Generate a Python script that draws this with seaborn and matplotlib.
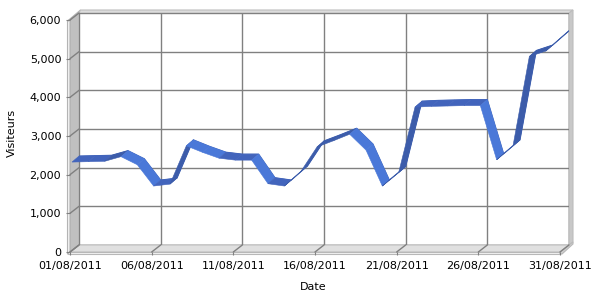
import matplotlib
matplotlib.use("Agg")
import matplotlib.pyplot as plt
import seaborn as sns
from matplotlib.patches import Polygon
from matplotlib.lines import Line2D

# ---------------- data ----------------
days = list(range(1, 32))
visitors = [2300, 2310, 2320, 2440, 2230, 1680, 1730, 2720, 2550, 2400,
            2350, 2350, 1740, 1680, 2050, 2690, 2850, 3020, 2610, 1680,
            2030, 3720, 3740, 3750, 3760, 3760, 2360, 2720, 5030, 5170,
            5540]
x_tick_days = [1, 6, 11, 16, 21, 26, 31]
x_tick_labels = ["01/08/2011", "06/08/2011", "11/08/2011", "16/08/2011",
                 "21/08/2011", "26/08/2011", "31/08/2011"]
y_ticks = [0, 1000, 2000, 3000, 4000, 5000, 6000]
y_tick_labels = ["0", "1,000", "2,000", "3,000", "4,000", "5,000", "6,000"]
x_label = "Date"
y_label = "Visiteurs"

# ---------------- style ----------------
sns.set_theme(style="white")
plt.rcParams["font.family"] = ["DejaVu Sans"]

W, H = 600, 300
fig = plt.figure(figsize=(6, 3), dpi=100)
fig.patch.set_facecolor("white")


def fx(x):
    return x / W


def fy(y):
    return 1 - y / H


def P(pts):
    return [(fx(a), fy(b)) for a, b in pts]


# back wall geometry (pixels, y downwards) and depth offset to the front
BX0, BX1, BY0, BY1 = 79, 569, 13, 245
DX, DY = -9, 7
XMIN, XMAX, YMIN, YMAX = 1, 31, 0, 6000

ax_b = fig.add_axes([fx(BX0), fy(BY1), (BX1 - BX0) / W, (BY1 - BY0) / H])
ax_f = fig.add_axes([fx(BX0 + DX), fy(BY1 + DY), (BX1 - BX0) / W, (BY1 - BY0) / H])


def add_poly(pts, fc, ec, lw=0.8, z=-1):
    fig.add_artist(Polygon(P(pts), closed=True, transform=fig.transFigure,
                           facecolor=fc, edgecolor=ec, lw=lw, zorder=z))


def add_line(p0, p1, color="#808080", lw=1.0, z=-0.5):
    fig.add_artist(Line2D([fx(p0[0]), fx(p1[0])], [fy(p0[1]), fy(p1[1])],
                          transform=fig.transFigure, color=color, lw=lw, zorder=z))


# ---------------- 3D box decoration ----------------
# left wall inner face
add_poly([(BX0, BY0), (BX0, BY1), (BX0 + DX, BY1 + DY), (BX0 + DX, BY0 + DY)],
         "#c0c0c0", "#b0b0b0")
# left wall thickness
add_poly([(BX0 + DX - 2.5, BY0 + DY + 1), (BX0 + DX, BY0 + DY), (BX0 + DX, BY1 + DY + 2),
          (BX0 + DX - 2.5, BY1 + DY + 2)], "#f2f2f2", "#b4b4b4")
# left wall top cap
add_poly([(BX0 + DX - 2.5, BY0 + DY + 1), (BX0 + DX, BY0 + DY), (BX0, BY0), (BX0 + 1.5, BY0 - 3)],
         "#e2e2e2", "#b4b4b4")
# top rim
add_poly([(BX0, BY0), (BX1, BY0), (BX1 + 4, BY0 - 3), (BX0 + 1.5, BY0 - 3)],
         "#dcdcdc", "#bdbdbd")
# right rim
add_poly([(BX1, BY0), (BX1 + 4, BY0 - 3), (BX1 + 4, BY1 - 3), (BX1, BY1)],
         "#c8c8c8", "#bdbdbd")
# floor top face
add_poly([(BX0, BY1), (BX1, BY1), (BX1 + DX, BY1 + DY), (BX0 + DX, BY1 + DY)],
         "#e0e0e0", "#c0c0c0")
# floor front face
add_poly([(BX0 + DX - 2.5, BY1 + DY), (BX1 + DX, BY1 + DY), (BX1 + DX, BY1 + DY + 2),
          (BX0 + DX - 2.5, BY1 + DY + 2)], "#f4f4f4", "#b8b8b8")
# floor right side
add_poly([(BX1 + DX, BY1 + DY), (BX1, BY1), (BX1 + 4, BY1 - 3), (BX1 + 4, BY1 - 1),
          (BX1 + DX + 2, BY1 + DY + 2), (BX1 + DX, BY1 + DY + 2)], "#d0d0d0", "#b8b8b8")

# diagonal grid continuations on the left wall and the floor
for v in y_ticks:
    yb = BY1 - (v - YMIN) / (YMAX - YMIN) * (BY1 - BY0)
    add_line((BX0, yb), (BX0 + DX, yb + DY))
for d in x_tick_days:
    xb = BX0 + (d - XMIN) / (XMAX - XMIN) * (BX1 - BX0)
    add_line((xb, BY1), (xb + DX, BY1 + DY))

# ---------------- back wall (grid) ----------------
ax_b.set_facecolor("none")
for s in ax_b.spines.values():
    s.set_visible(False)
ax_b.set_xlim(XMIN, XMAX)
ax_b.set_ylim(YMIN, YMAX)
ax_b.set_xticks(x_tick_days)
ax_b.set_yticks(y_ticks)
ax_b.tick_params(length=0, labelbottom=False, labelleft=False)
ax_b.grid(True, color="#808080", lw=1.0)
ax_b.set_axisbelow(True)

# ---------------- ribbon ----------------
sns.lineplot(x=days, y=visitors, ax=ax_b, color="#4064b8", lw=0.8, zorder=2)

px_per_day = (BX1 - BX0) / (XMAX - XMIN)
px_per_unit = (BY1 - BY0) / (YMAX - YMIN)
rdx = -7 / px_per_day
rdy = -6 / px_per_unit
for i in range(len(days) - 1):
    x0, x1 = days[i], days[i + 1]
    y0, y1 = visitors[i], visitors[i + 1]
    dv = y1 - y0
    if dv < -60:
        c = "#4a78d8"
    elif dv > 60:
        c = "#3c5caa"
    else:
        c = "#4264bc"
    pts = [(x0, y0), (x1, y1), (x1 + rdx, y1 + rdy), (x0 + rdx, y0 + rdy)]
    ax_b.add_patch(Polygon(pts, closed=True, facecolor=c, edgecolor=c, lw=0.4,
                           clip_on=False, zorder=3))

# ---------------- front plane: ticks and labels ----------------
ax_f.set_facecolor("none")
for s in ax_f.spines.values():
    s.set_visible(False)
ax_f.set_xlim(XMIN, XMAX)
ax_f.set_ylim(YMIN, YMAX)
ax_f.set_xticks(x_tick_days)
ax_f.set_xticklabels(x_tick_labels)
ax_f.set_yticks(y_ticks)
ax_f.set_yticklabels(y_tick_labels)
ax_f.grid(False)
ax_f.tick_params(axis="x", bottom=True, length=2.2, width=0.8, color="#808080",
                 pad=4.5, labelsize=8, labelcolor="black")
ax_f.tick_params(axis="y", left=True, length=2.9, width=0.8, color="#808080",
                 pad=3.4, labelsize=8, labelcolor="black")
ax_f.set_xlabel(x_label, fontsize=8, color="black")
ax_f.set_ylabel(y_label, fontsize=8, color="black")
ax_f.xaxis.label.set_va("center")
ax_f.yaxis.label.set_va("center")
ax_f.yaxis.label.set_ha("center")
ax_f.xaxis.set_label_coords((313 - (BX0 + DX)) / (BX1 - BX0), -(287 - (BY1 + DY)) / (BY1 - BY0))
ax_f.yaxis.set_label_coords((11.5 - (BX0 + DX)) / (BX1 - BX0), ((BY1 + DY) - 133) / (BY1 - BY0))

fig.savefig("out.png", dpi=100)
